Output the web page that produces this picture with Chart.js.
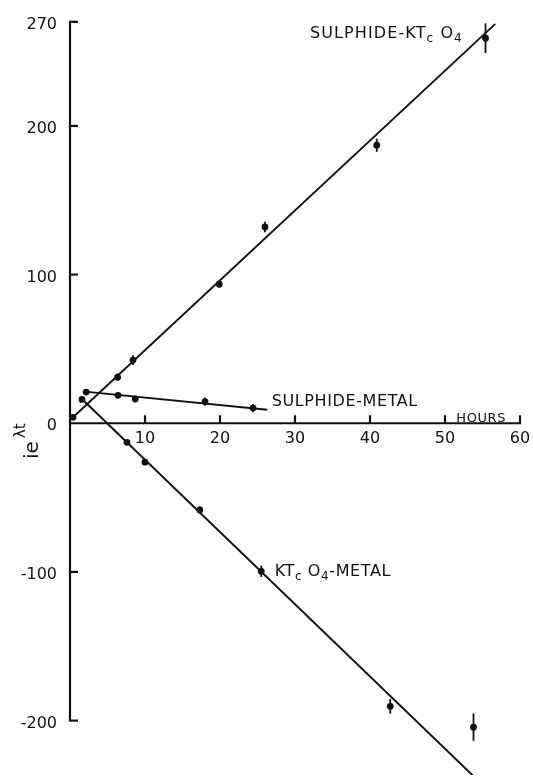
<!DOCTYPE html>
<html><head><meta charset="utf-8">
<style>html,body{margin:0;padding:0;background:#fff;}canvas{display:block;}</style>
<script src="https://cdn.jsdelivr.net/npm/chart.js@4"></script>
</head><body>
<canvas id="c" width="533" height="779"></canvas>
<script>
// ---- data ----
const xTicks = [10, 20, 30, 40, 50, 60];
const yTicks = [-200, -100, 0, 100, 200, 270];

const sulphideKtcHours  = [0.4, 6.35, 8.4, 19.9, 26.0, 40.9, 55.4];
const sulphideKtcValues = [4, 31, 42.5, 93.5, 132, 187, 259];
const sulphideKtcErrors = [0, 2.5, 3.3, 2, 3.5, 4.4, 10];

const sulphideMetalHours  = [2.15, 6.4, 8.7, 18.0, 24.4];
const sulphideMetalValues = [21, 18.8, 16.3, 14.6, 10.2];
const sulphideMetalErrors = [0, 0, 0, 2.8, 2.8];

const ktcMetalHours  = [1.6, 7.6, 10.0, 17.3, 25.5, 42.7, 53.8];
const ktcMetalValues = [16, -12.8, -26.2, -58.3, -99.6, -190.4, -204.4];
const ktcMetalErrors = [0, 0, 0, 2.5, 3.8, 5, 9.2];

const sulphideKtcFitHours  = [0.4, 56.7];
const sulphideKtcFitValues = [4, 268.6];
const sulphideMetalFitHours  = [2.0, 26.3];
const sulphideMetalFitValues = [21.3, 9.1];
const ktcMetalFitHours  = [1.8, 53.7];
const ktcMetalFitValues = [15.3, -236.9];

// ---- build ----
const INK = '#111';
const FONT = '"DejaVu Sans", sans-serif';
const pts = (xs, ys) => xs.map((x, i) => ({x, y: ys[i]}));

function fitSet(xs, ys) {
  return {type: 'line', data: pts(xs, ys), borderColor: INK, borderWidth: 1.9,
          pointRadius: 0, showLine: true, fill: false, tension: 0};
}
function pointSet(xs, ys, errs) {
  return {type: 'scatter', data: pts(xs, ys), errorBars: errs,
          backgroundColor: INK, borderColor: INK, pointRadius: 3.4, borderWidth: 0};
}

// Annotations anchored in data coordinates: [hours, value]
const annotations = [
  {at: [32.0, 259], parts: [['SULPHIDE-KT', 0], ['c', 1], [' O', 0], ['4', 1]], size: 16, spacing: 1.1},
  {at: [26.9, 11.5], parts: [['SULPHIDE-METAL', 0]], size: 16, spacing: 0.6},
  {at: [51.5, 0.9], parts: [['HOURS', 0]], size: 13, spacing: 0.6},
  {at: [27.3, -102.5], parts: [['KT', 0], ['c', 1], [' O', 0], ['4', 1], ['-METAL', 0]], size: 16, spacing: 0.6}
];

const axesPlugin = {
  id: 'axes',
  beforeDatasetsDraw(chart) {
    const {ctx, scales: {x, y}} = chart;
    const x0 = x.getPixelForValue(0), y0 = y.getPixelForValue(0);
    ctx.save();
    ctx.strokeStyle = INK; ctx.lineWidth = 2.2; ctx.lineCap = 'butt';
    const yTop = y.getPixelForValue(270), yBot = y.getPixelForValue(-200);
    ctx.beginPath(); ctx.moveTo(x0, yTop - 1); ctx.lineTo(x0, yBot + 1); ctx.stroke();
    yTicks.forEach(v => {
      if (v === 0) return;
      const p = y.getPixelForValue(v);
      ctx.beginPath(); ctx.moveTo(x0, p); ctx.lineTo(x0 + 8, p); ctx.stroke();
    });
    const xEnd = x.getPixelForValue(60);
    ctx.beginPath(); ctx.moveTo(x0, y0); ctx.lineTo(xEnd + 1, y0); ctx.stroke();
    xTicks.forEach(v => {
      const p = x.getPixelForValue(v);
      ctx.beginPath(); ctx.moveTo(p, y0); ctx.lineTo(p, y0 - 8); ctx.stroke();
    });
    ctx.restore();
  },
  afterDatasetsDraw(chart) {
    const {ctx, scales: {x, y}} = chart;
    ctx.save();
    ctx.strokeStyle = INK; ctx.lineWidth = 1.8;
    chart.data.datasets.forEach(ds => {
      if (!ds.errorBars) return;
      ds.data.forEach((p, i) => {
        const e = ds.errorBars[i];
        if (!e) return;
        const px = x.getPixelForValue(p.x);
        ctx.beginPath();
        ctx.moveTo(px, y.getPixelForValue(p.y + e));
        ctx.lineTo(px, y.getPixelForValue(p.y - e));
        ctx.stroke();
      });
    });
    ctx.restore();
  },
  afterDraw(chart) {
    const {ctx, scales: {x, y}} = chart;
    ctx.save();
    ctx.fillStyle = INK;
    ctx.textBaseline = 'alphabetic';
    ctx.textAlign = 'left';
    annotations.forEach(a => {
      try { ctx.letterSpacing = a.spacing + 'px'; } catch (e) {}
      let px = x.getPixelForValue(a.at[0]);
      const py = y.getPixelForValue(a.at[1]);
      a.parts.forEach(([t, sub]) => {
        const s = sub ? Math.round(a.size * 0.75) : a.size;
        ctx.font = s + 'px ' + FONT;
        ctx.fillText(t, px, py + (sub ? 4 : 0));
        px += ctx.measureText(t).width;
      });
    });
    try { ctx.letterSpacing = '0px'; } catch (e) {}
    ctx.translate(38, 459);
    ctx.rotate(-Math.PI / 2);
    ctx.font = '20px ' + FONT;
    ctx.fillText('ie', 0, 0);
    const w = ctx.measureText('ie').width;
    ctx.font = '15px ' + FONT;
    ctx.fillText('λt', w + 3, -13);
    ctx.restore();
  }
};

new Chart(document.getElementById('c'), {
  data: {
    datasets: [
      fitSet(sulphideKtcFitHours, sulphideKtcFitValues),
      fitSet(sulphideMetalFitHours, sulphideMetalFitValues),
      fitSet(ktcMetalFitHours, ktcMetalFitValues),
      pointSet(sulphideKtcHours, sulphideKtcValues, sulphideKtcErrors),
      pointSet(sulphideMetalHours, sulphideMetalValues, sulphideMetalErrors),
      pointSet(ktcMetalHours, ktcMetalValues, ktcMetalErrors)
    ]
  },
  options: {
    responsive: false,
    animation: false,
    devicePixelRatio: 1,
    layout: {padding: {left: 0, right: 13, top: 0, bottom: 0}},
    plugins: {legend: {display: false}, tooltip: {enabled: false}},
    scales: {
      x: {
        type: 'linear', position: {y: 0}, min: 0, max: 60,
        afterBuildTicks: s => { s.ticks = xTicks.map(v => ({value: v})); },
        afterFit: s => { s.paddingLeft = 0; s.paddingRight = 0; },
        grid: {display: false}, border: {display: false},
        ticks: {color: INK, font: {family: FONT, size: 16}, padding: -2, maxRotation: 0, autoSkip: false}
      },
      y: {
        type: 'linear', position: 'left', min: -236.6, max: 282,
        afterBuildTicks: s => { s.ticks = yTicks.map(v => ({value: v})); },
        afterFit: s => { s.width = 70; s.paddingTop = 0; s.paddingBottom = 0; },
        grid: {display: false}, border: {display: false},
        ticks: {color: INK, font: {family: FONT, size: 16}, padding: 5, labelOffset: 3, autoSkip: false}
      }
    }
  },
  plugins: [axesPlugin]
});
</script>
</body></html>
